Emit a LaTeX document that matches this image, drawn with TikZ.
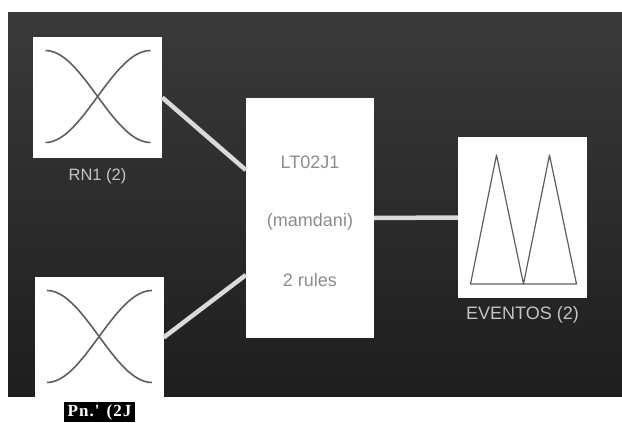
\documentclass[tikz,border=0pt]{standalone}
\usepackage{fontspec}
\setmainfont{Liberation Sans}
\newfontfamily\tagfont[LetterSpace=6]{Liberation Serif}
\usetikzlibrary{positioning,calc}

\definecolor{paneltop}{HTML}{3A3A3A}
\definecolor{panelbot}{HTML}{1E1E1E}
\definecolor{curve}{HTML}{5E5E5E}
\definecolor{wire}{HTML}{DADADA}
\definecolor{caption}{HTML}{C4C4C4}
\definecolor{blocktext}{HTML}{8C8C8C}

\tikzset{
  mfbox/.style={fill=white,draw=none,minimum width=129pt,minimum height=121pt,inner sep=0pt},
  rulebox/.style={fill=white,draw=none,minimum width=128pt,minimum height=240pt,inner sep=0pt},
  wirelink/.style={wire,line width=4.5pt},
  mfline/.style={curve,line width=1.6pt},
  boxlabel/.style={caption,font=\fontsize{16.5}{18}\selectfont},
  blockline/.style={text=blocktext,font=\fontsize{18}{20}\selectfont}
}

\begin{document}
\begin{tikzpicture}[x=1pt,y=-1pt]
  \useasboundingbox (0,0) rectangle (622,423);

  % dark panel
  \shade[top color=paneltop,bottom color=panelbot] (8,12) rectangle (622,396);

  % inputs
  \node[mfbox] (rn1) at (97.5,97.5) {};
  \node[boxlabel,below=7pt of rn1] (rn1lab) {RN1 (2)};
  \node[mfbox] (rn2) at (99,337.5) {};

  % rule block
  \node[rulebox] (rules) at (310,218) {};
  \node[blockline] (rname) at (310,162) {LT02J1};
  \node[blockline] (rtype) at (310,222) {(mamdani)};
  \node[blockline] (rcount) at (310,280) {2 rules};

  % output
  \node[mfbox,minimum height=161pt] (events) at (522.5,217.5) {};
  \node[boxlabel,font=\fontsize{18}{20}\selectfont,below=5pt of events] (eventslab) {EVENTOS (2)};

  % links
  \draw[wirelink] (rn1.east) -- ($(rules.west)+(0,-48)$);
  \draw[wirelink] (rn2.east) -- ($(rules.west)+(0,57)$);
  \draw[wirelink] (rules.east) -- (events.west);

  % membership curves
  \foreach \b in {rn1,rn2}{
    \begin{scope}[shift={(\b.center)}]
      \draw[mfline] (-52,-47) .. controls (-15,-47) and (15,45) .. (53,45);
      \draw[mfline] (-52,45) .. controls (-15,45) and (15,-47) .. (53,-47);
    \end{scope}
  }
  \begin{scope}[shift={(events.center)}]
    \draw[curve,line width=1.2pt,line join=round]
      (-52,66.5) -- (-26,-62.5) -- (1,66.5) -- (27,-62.5) -- (54,66.5) -- cycle;
  \end{scope}

  % tag below
  \node[fill=black,text=white,inner sep=2pt,minimum width=71pt,minimum height=20pt,
        font=\tagfont\bfseries\fontsize{17}{19}\selectfont] (tag) at (99.5,412) {Pn.' (2J};
\end{tikzpicture}
\end{document}
